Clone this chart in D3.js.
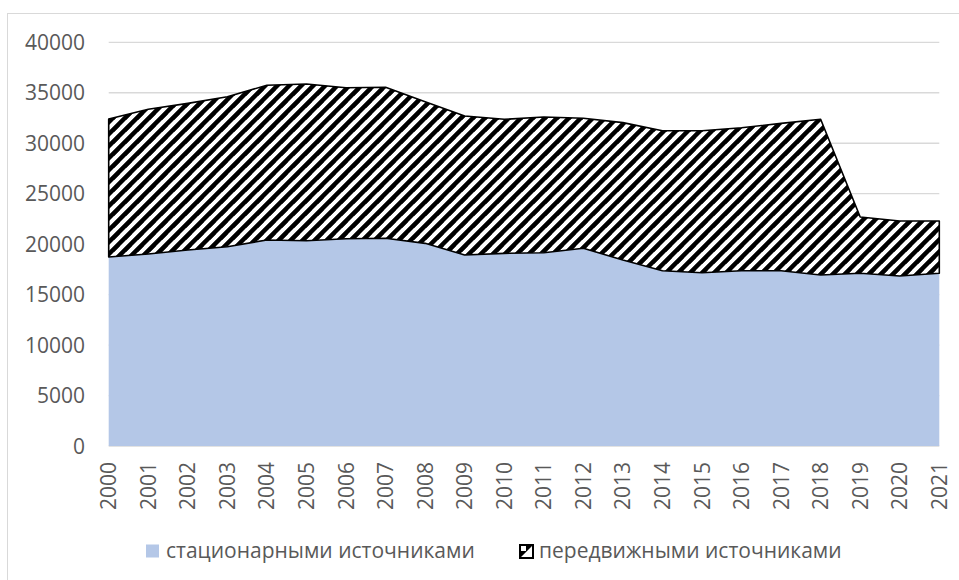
<!doctype html>
<html lang="ru">
<head>
<meta charset="utf-8">
<script src="https://cdn.jsdelivr.net/npm/d3@7"></script>
<style>
  body { margin: 0; background: #fff; }
  text { font-family: "Open Sans", sans-serif; fill: #595959; }
</style>
</head>
<body>
<script>
const years = ["2000", "2001", "2002", "2003", "2004", "2005", "2006", "2007", "2008", "2009", "2010",
  "2011", "2012", "2013", "2014", "2015", "2016", "2017", "2018", "2019", "2020", "2021"];
const stationary = [18730, 19020, 19420, 19750, 20410, 20340, 20540, 20580, 20080, 18920, 19090,
  19150, 19590, 18430, 17370, 17170, 17370, 17370, 16940, 17110, 16840, 17110];
const mobile = [13670, 14340, 14530, 14860, 15330, 15530, 14960, 14960, 14030, 13780, 13280,
  13450, 12880, 13610, 13870, 14070, 14170, 14600, 15430, 5580, 5450, 5180];
const yTicks = [0, 5000, 10000, 15000, 20000, 25000, 30000, 35000, 40000];
const seriesNames = ["стационарными источниками", "передвижными источниками"];

const width = 959, height = 580;
const svg = d3.select("body").append("svg")
  .attr("width", width)
  .attr("height", height);

// wide upward diagonal hatch, like Excel's pattern fill
const P = 12;
const hatch = svg.append("defs").append("pattern")
  .attr("id", "hatch")
  .attr("patternUnits", "userSpaceOnUse")
  .attr("width", P)
  .attr("height", P);
hatch.append("rect").attr("width", P).attr("height", P).attr("fill", "#fff");
hatch.append("path")
  .attr("d", `M0,0H${P / 2}L0,${P / 2}Z M${P},0V${P / 2}L${P / 2},${P}H0V${P}L0,${P}Z`)
  .attr("fill", "#000");
hatch.append("path")
  .attr("d", `M${P},0L${P},${P / 2}L${P / 2},${P}L0,${P}Z`)
  .attr("fill", "#000");

// chart frame (runs past the right and bottom edges)
svg.append("rect")
  .attr("x", 7.5).attr("y", 13.5)
  .attr("width", 1000).attr("height", 600)
  .attr("fill", "none")
  .attr("stroke", "#d9d9d9");

const x = d3.scalePoint().domain(years).range([108.7, 939.3]);
const y = d3.scaleLinear().domain([0, 40000]).range([446, 42.3]);

// gridlines
svg.append("g")
  .selectAll("line")
  .data(yTicks)
  .join("line")
  .attr("x1", 108.7).attr("x2", 939.3)
  .attr("y1", d => y(d)).attr("y2", d => y(d))
  .attr("stroke", "#d9d9d9")
  .attr("stroke-width", 1.3);

const table = years.map((yr, i) => ({year: yr, s: stationary[i], m: mobile[i]}));
const stacked = d3.stack().keys(["s", "m"])(table);

const area = d3.area()
  .x(d => x(d.data.year))
  .y0(d => y(d[0]))
  .y1(d => y(d[1]));

svg.append("path")
  .datum(stacked[0])
  .attr("d", area)
  .attr("fill", "#b4c7e7");

svg.append("path")
  .datum(stacked[1])
  .attr("d", area)
  .attr("fill", "url(#hatch)")
  .attr("stroke", "#000")
  .attr("stroke-width", 1.6)
  .attr("stroke-linejoin", "round");

// y labels
svg.append("g")
  .selectAll("text")
  .data(yTicks)
  .join("text")
  .attr("x", 85)
  .attr("y", d => y(d))
  .attr("dy", "0.36em")
  .attr("text-anchor", "end")
  .attr("font-size", 21)
  .text(d => d);

// x labels
svg.append("g")
  .selectAll("text")
  .data(years)
  .join("text")
  .attr("transform", d => `translate(${x(d)},462) rotate(-90)`)
  .attr("dy", "0.36em")
  .attr("text-anchor", "end")
  .attr("font-size", 21)
  .text(d => d);

// legend
const legend = svg.append("g");
legend.append("rect")
  .attr("x", 146).attr("y", 544.5).attr("width", 13).attr("height", 13)
  .attr("fill", "#b4c7e7");
legend.append("text")
  .attr("x", 166).attr("y", 558)
  .attr("font-size", 21)
  .text(seriesNames[0]);
legend.append("rect")
  .attr("x", 520).attr("y", 545).attr("width", 13).attr("height", 13)
  .attr("fill", "#fff")
  .attr("stroke", "#000")
  .attr("stroke-width", 2);
legend.append("path")
  .attr("d", "M521,557L521,551L526,551L526,546L532,546Z")
  .attr("fill", "#000");
legend.append("text")
  .attr("x", 539).attr("y", 558)
  .attr("font-size", 21)
  .text(seriesNames[1]);
</script>
</body>
</html>
